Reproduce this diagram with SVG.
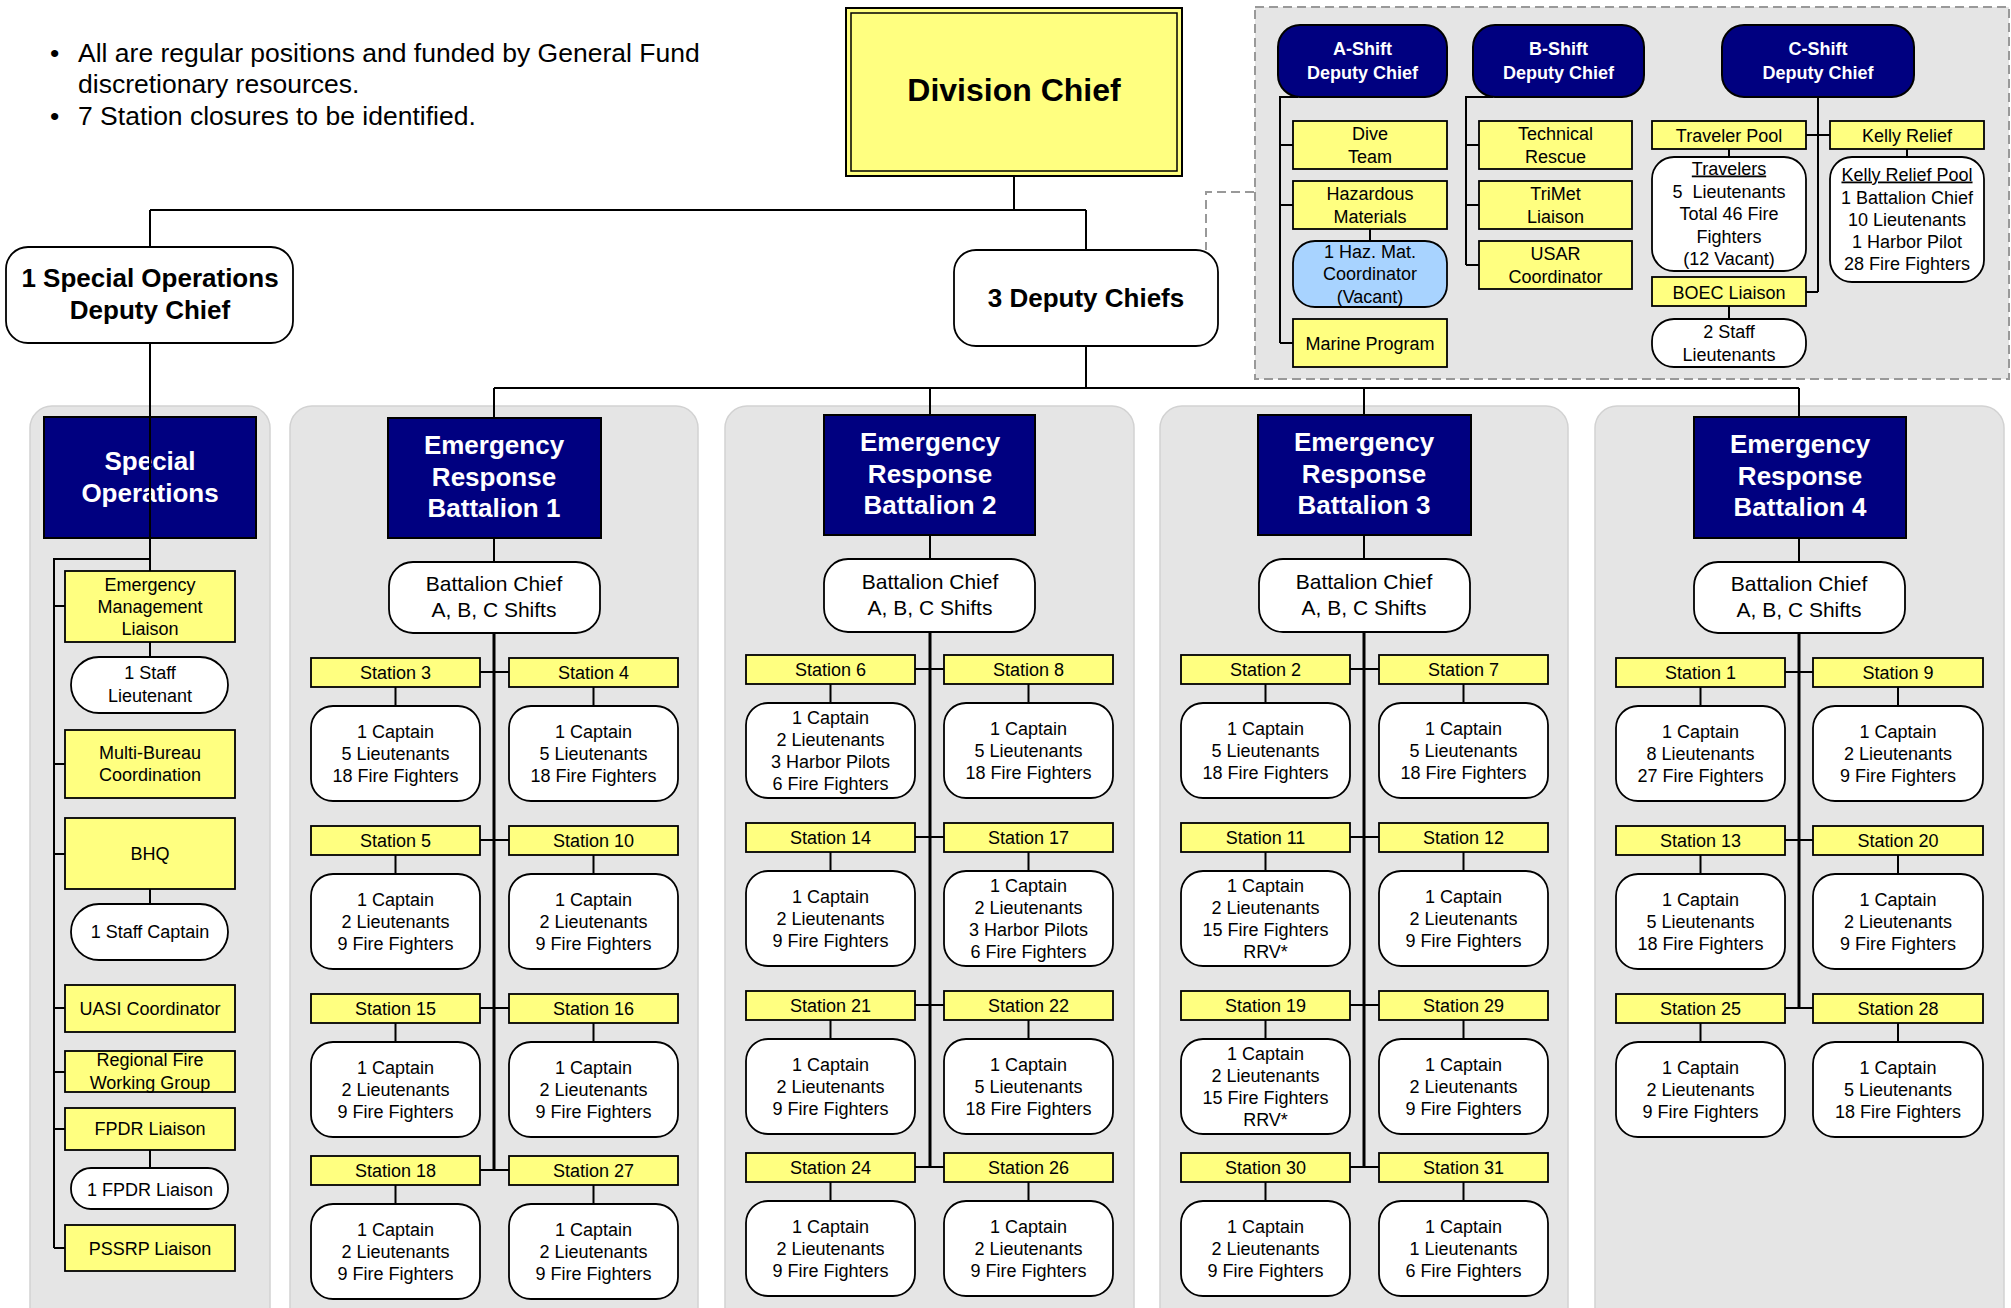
<svg xmlns="http://www.w3.org/2000/svg" width="2011" height="1308" viewBox="0 0 2011 1308">
<style>
.bg{fill:#fff}
.panel{fill:#e5e5e5;stroke:#d2d2d2;stroke-width:1.5}
.dash{fill:#e5e5e5;stroke:#999;stroke-width:2;stroke-dasharray:9,5}
.navy{fill:#000080;stroke:#000;stroke-width:2}
.yel{fill:#ffff80;stroke:#000;stroke-width:1.8}
.wb{fill:#fff;stroke:#000;stroke-width:1.8}
.blue{fill:#a8d3ff;stroke:#000;stroke-width:1.8}
.t{font-family:"Liberation Sans",Arial,sans-serif;font-size:18px;text-anchor:middle;fill:#000}
.bc{font-family:"Liberation Sans",Arial,sans-serif;font-size:21px;text-anchor:middle;fill:#000}
.tw{font-family:"Liberation Sans",Arial,sans-serif;font-weight:bold;text-anchor:middle;fill:#fff}
.tb{font-family:"Liberation Sans",Arial,sans-serif;font-weight:bold;text-anchor:middle;fill:#000}
.c{fill:none;stroke:#000;stroke-width:2}
.cm{fill:none;stroke:#000;stroke-width:3}
.cd{fill:none;stroke:#999;stroke-width:2;stroke-dasharray:9,5}
.u{text-decoration:underline}
</style>
<rect class="bg" x="0" y="0" width="2011" height="1308"/>

<g id="panels">
<rect class="dash" x="1255" y="7" width="754" height="372"/>
<rect class="panel" x="30" y="406" width="240" height="940" rx="22"/>
<rect class="panel" x="290" y="406" width="408" height="940" rx="22"/>
<rect class="panel" x="725" y="406" width="409" height="940" rx="22"/>
<rect class="panel" x="1160" y="406" width="408" height="940" rx="22"/>
<rect class="panel" x="1595" y="406" width="409" height="940" rx="22"/>
</g>

<g id="notes" font-family="'Liberation Sans',Arial,sans-serif" font-size="26.5" fill="#000">
<text x="50" y="62">•</text>
<text x="78" y="62">All are regular positions and funded by General Fund</text>
<text x="78" y="93">discretionary resources.</text>
<text x="50" y="125">•</text>
<text x="78" y="125">7 Station closures to be identified.</text>
</g>

<g id="connectors">
<path class="c" d="M1014,176 V210 M150,210 H1086 M150,210 V247 M1086,210 V250"/>
<path class="cd" d="M1254,192 H1206 V250"/>
<path class="c" d="M1086,346 V388 M494,388 H1799 M494,388 V418 M930,388 V415 M1364,388 V415 M1799,388 V417"/>
<path class="c" d="M1298,97 H1280 V343 M1280,145 H1293 M1280,205 H1293 M1280,343 H1293 M1370,229 V241"/>
<path class="c" d="M1493,97 H1466 V265 M1466,145 H1479 M1466,205 H1479 M1466,265 H1479"/>
<path class="c" d="M1818,97 V292 M1806,135 H1830 M1818,292 H1806 M1729,149 V157 M1729,306 V319 M1907,149 V157"/>
<path class="c" d="M150,642 V657 M150,889 V904 M150,1150 V1168"/>
<path class="c" d="M150,343 V571 M150,559 H54 V1248 M54,606 H65 M54,764 H65 M54,854 H65 M54,1008 H65 M54,1072 H65 M54,1129 H65 M54,1248 H65"/>
<path class="c" d="M494,538 V562 M930,535 V559 M1364,535 V559 M1799,538 V562"/>
<path class="cm" d="M494,633 V1170 M930,632 V1167 M1364,632 V1167 M1799,633 V1008"/>
<path class="c" d="M480,672 H509 M480,840 H509 M480,1008 H509 M480,1170 H509"/>
<path class="c" d="M915,669 H944 M915,837 H944 M915,1005 H944 M915,1167 H944"/>
<path class="c" d="M1350,669 H1379 M1350,837 H1379 M1350,1005 H1379 M1350,1167 H1379"/>
<path class="c" d="M1785,672 H1813 M1785,840 H1813 M1785,1008 H1813"/>
<path class="c" d="M395.5,687 V706 M395.5,855 V874 M395.5,1023 V1042 M395.5,1185 V1204 M593.5,687 V706 M593.5,855 V874 M593.5,1023 V1042 M593.5,1185 V1204"/>
<path class="c" d="M830.5,684 V703 M830.5,852 V871 M830.5,1020 V1039 M830.5,1182 V1201 M1028.5,684 V703 M1028.5,852 V871 M1028.5,1020 V1039 M1028.5,1182 V1201"/>
<path class="c" d="M1265.5,684 V703 M1265.5,852 V871 M1265.5,1020 V1039 M1265.5,1182 V1201 M1463.5,684 V703 M1463.5,852 V871 M1463.5,1020 V1039 M1463.5,1182 V1201"/>
<path class="c" d="M1700.5,687 V706 M1700.5,855 V874 M1700.5,1023 V1042 M1898,687 V706 M1898,855 V874 M1898,1023 V1042"/>
</g>

<g id="division-chief">
<rect x="846" y="8" width="336" height="168" fill="#ffff80" stroke="#000" stroke-width="2"/>
<rect x="851" y="13" width="326" height="158" fill="none" stroke="#000" stroke-width="1.5"/>
<text class="tb" x="1014" y="101" font-size="32">Division Chief</text>
</g>
<g id="so-deputy">
<rect class="wb" x="6" y="247" width="287" height="96" rx="22"/>
<text class="tb" x="150" y="287" font-size="26">1 Special Operations</text>
<text class="tb" x="150" y="319" font-size="26">Deputy Chief</text>
</g>
<g id="deputy-chiefs">
<rect class="wb" x="954" y="250" width="264" height="96" rx="22"/>
<text class="tb" x="1086" y="307" font-size="26">3 Deputy Chiefs</text>
</g>

<g id="a-shift"><rect class="navy" x="1278" y="25" width="169" height="72" rx="22"/><text class="tw" font-size="18" x="1362.5" y="54.5">A-Shift</text><text class="tw" font-size="18" x="1362.5" y="78.5">Deputy Chief</text></g>
<g id="b-shift"><rect class="navy" x="1473" y="25" width="171" height="72" rx="22"/><text class="tw" font-size="18" x="1558.5" y="54.5">B-Shift</text><text class="tw" font-size="18" x="1558.5" y="78.5">Deputy Chief</text></g>
<g id="c-shift"><rect class="navy" x="1722" y="25" width="192" height="72" rx="22"/><text class="tw" font-size="18" x="1818" y="54.5">C-Shift</text><text class="tw" font-size="18" x="1818" y="78.5">Deputy Chief</text></g>
<g id="dive-team"><rect class="yel" x="1293" y="121" width="154" height="48"/><text class="t" x="1370" y="139.5">Dive</text><text class="t" x="1370" y="162.5">Team</text></g>
<g id="hazmat"><rect class="yel" x="1293" y="181" width="154" height="48"/><text class="t" x="1370" y="199.5">Hazardous</text><text class="t" x="1370" y="222.5">Materials</text></g>
<g id="hazmat-coord"><rect class="blue" x="1293" y="241" width="154" height="66" rx="22"/><text class="t" x="1370" y="257.5">1 Haz. Mat.</text><text class="t" x="1370" y="279.5">Coordinator</text><text class="t" x="1370" y="302.5">(Vacant)</text></g>
<g id="marine"><rect class="yel" x="1293" y="319" width="154" height="48"/><text class="t" x="1370" y="349.5">Marine Program</text></g>
<g id="tech-rescue"><rect class="yel" x="1479" y="121" width="153" height="48"/><text class="t" x="1555.5" y="139.5">Technical</text><text class="t" x="1555.5" y="162.5">Rescue</text></g>
<g id="trimet"><rect class="yel" x="1479" y="181" width="153" height="48"/><text class="t" x="1555.5" y="199.5">TriMet</text><text class="t" x="1555.5" y="222.5">Liaison</text></g>
<g id="usar"><rect class="yel" x="1479" y="241" width="153" height="48"/><text class="t" x="1555.5" y="259.5">USAR</text><text class="t" x="1555.5" y="282.5">Coordinator</text></g>
<g id="traveler-pool"><rect class="yel" x="1652" y="121" width="154" height="28"/><text class="t" x="1729" y="141.5">Traveler Pool</text></g>
<g id="travelers"><rect class="wb" x="1652" y="157" width="154" height="114" rx="22"/><text class="t u" x="1729" y="174.5">Travelers</text><text class="t" x="1729" y="197.5" xml:space="preserve">5  Lieutenants</text><text class="t" x="1729" y="219.5">Total 46 Fire</text><text class="t" x="1729" y="242.5">Fighters</text><text class="t" x="1729" y="264.5">(12 Vacant)</text></g>
<g id="boec"><rect class="yel" x="1652" y="277" width="154" height="29"/><text class="t" x="1729" y="298.5">BOEC Liaison</text></g>
<g id="staff-lts"><rect class="wb" x="1652" y="319" width="154" height="48" rx="22"/><text class="t" x="1729" y="337.5">2 Staff</text><text class="t" x="1729" y="360.5">Lieutenants</text></g>
<g id="kelly-relief"><rect class="yel" x="1830" y="121" width="154" height="28"/><text class="t" x="1907" y="141.5">Kelly Relief</text></g>
<g id="kelly-pool"><rect class="wb" x="1830" y="157" width="154" height="125" rx="22"/><text class="t u" x="1907" y="180.5">Kelly Relief Pool</text><text class="t" x="1907" y="203.5">1 Battalion Chief</text><text class="t" x="1907" y="225.5">10 Lieutenants</text><text class="t" x="1907" y="247.5">1 Harbor Pilot</text><text class="t" x="1907" y="269.5">28 Fire Fighters</text></g>

<g id="special-ops"><rect class="navy" x="44" y="417" width="212" height="121"/><text class="tw" font-size="26" x="150" y="470">Special</text><text class="tw" font-size="26" x="150" y="502">Operations</text></g>
<g id="eml"><rect class="yel" x="65" y="571" width="170" height="71"/><text class="t" x="150" y="590.5">Emergency</text><text class="t" x="150" y="612.5">Management</text><text class="t" x="150" y="634.5">Liaison</text></g>
<g id="staff-lt"><rect class="wb" x="71" y="657" width="157" height="56" rx="28"/><text class="t" x="150" y="678.5">1 Staff</text><text class="t" x="150" y="701.5">Lieutenant</text></g>
<g id="multi-bureau"><rect class="yel" x="65" y="730" width="170" height="68"/><text class="t" x="150" y="758.5">Multi-Bureau</text><text class="t" x="150" y="780.5">Coordination</text></g>
<g id="bhq"><rect class="yel" x="65" y="818" width="170" height="71"/><text class="t" x="150" y="859.5">BHQ</text></g>
<g id="staff-capt"><rect class="wb" x="71" y="904" width="157" height="56" rx="28"/><text class="t" x="150" y="937.5">1 Staff Captain</text></g>
<g id="uasi"><rect class="yel" x="65" y="985" width="170" height="47"/><text class="t" x="150" y="1014.5">UASI Coordinator</text></g>
<g id="regional"><rect class="yel" x="65" y="1051" width="170" height="41"/><text class="t" x="150" y="1065.5">Regional Fire</text><text class="t" x="150" y="1088.5">Working Group</text></g>
<g id="fpdr"><rect class="yel" x="65" y="1108" width="170" height="42"/><text class="t" x="150" y="1134.5">FPDR Liaison</text></g>
<g id="fpdr-person"><rect class="wb" x="71" y="1168" width="157" height="41" rx="20"/><text class="t" x="150" y="1195.5">1 FPDR Liaison</text></g>
<g id="pssrp"><rect class="yel" x="65" y="1225" width="170" height="46"/><text class="t" x="150" y="1254.5">PSSRP Liaison</text></g>

<!-- Battalion 1 -->
<g id="erb1"><rect class="navy" x="388" y="418" width="213" height="120"/><text class="tw" font-size="26" x="494" y="454">Emergency</text><text class="tw" font-size="26" x="494" y="486">Response</text><text class="tw" font-size="26" x="494" y="517">Battalion 1</text></g>
<g id="bc1"><rect class="wb" x="389" y="562" width="211" height="71" rx="24"/><text class="bc" x="494" y="591">Battalion Chief</text><text class="bc" x="494" y="617">A, B, C Shifts</text></g>
<g id="st3"><rect class="yel" x="311" y="658" width="169" height="29"/><text class="t" x="395.5" y="679">Station 3</text><rect class="wb" x="311" y="706" width="169" height="95" rx="22"/><text class="t" x="395.5" y="738">1 Captain</text><text class="t" x="395.5" y="760">5 Lieutenants</text><text class="t" x="395.5" y="782">18 Fire Fighters</text></g>
<g id="st4"><rect class="yel" x="509" y="658" width="169" height="29"/><text class="t" x="593.5" y="679">Station 4</text><rect class="wb" x="509" y="706" width="169" height="95" rx="22"/><text class="t" x="593.5" y="738">1 Captain</text><text class="t" x="593.5" y="760">5 Lieutenants</text><text class="t" x="593.5" y="782">18 Fire Fighters</text></g>
<g id="st5"><rect class="yel" x="311" y="826" width="169" height="29"/><text class="t" x="395.5" y="847">Station 5</text><rect class="wb" x="311" y="874" width="169" height="95" rx="22"/><text class="t" x="395.5" y="906">1 Captain</text><text class="t" x="395.5" y="928">2 Lieutenants</text><text class="t" x="395.5" y="950">9 Fire Fighters</text></g>
<g id="st10"><rect class="yel" x="509" y="826" width="169" height="29"/><text class="t" x="593.5" y="847">Station 10</text><rect class="wb" x="509" y="874" width="169" height="95" rx="22"/><text class="t" x="593.5" y="906">1 Captain</text><text class="t" x="593.5" y="928">2 Lieutenants</text><text class="t" x="593.5" y="950">9 Fire Fighters</text></g>
<g id="st15"><rect class="yel" x="311" y="994" width="169" height="29"/><text class="t" x="395.5" y="1015">Station 15</text><rect class="wb" x="311" y="1042" width="169" height="95" rx="22"/><text class="t" x="395.5" y="1074">1 Captain</text><text class="t" x="395.5" y="1096">2 Lieutenants</text><text class="t" x="395.5" y="1118">9 Fire Fighters</text></g>
<g id="st16"><rect class="yel" x="509" y="994" width="169" height="29"/><text class="t" x="593.5" y="1015">Station 16</text><rect class="wb" x="509" y="1042" width="169" height="95" rx="22"/><text class="t" x="593.5" y="1074">1 Captain</text><text class="t" x="593.5" y="1096">2 Lieutenants</text><text class="t" x="593.5" y="1118">9 Fire Fighters</text></g>
<g id="st18"><rect class="yel" x="311" y="1156" width="169" height="29"/><text class="t" x="395.5" y="1177">Station 18</text><rect class="wb" x="311" y="1204" width="169" height="95" rx="22"/><text class="t" x="395.5" y="1236">1 Captain</text><text class="t" x="395.5" y="1258">2 Lieutenants</text><text class="t" x="395.5" y="1280">9 Fire Fighters</text></g>
<g id="st27"><rect class="yel" x="509" y="1156" width="169" height="29"/><text class="t" x="593.5" y="1177">Station 27</text><rect class="wb" x="509" y="1204" width="169" height="95" rx="22"/><text class="t" x="593.5" y="1236">1 Captain</text><text class="t" x="593.5" y="1258">2 Lieutenants</text><text class="t" x="593.5" y="1280">9 Fire Fighters</text></g>

<!-- Battalion 2 -->
<g id="erb2"><rect class="navy" x="824" y="415" width="211" height="120"/><text class="tw" font-size="26" x="930" y="451">Emergency</text><text class="tw" font-size="26" x="930" y="483">Response</text><text class="tw" font-size="26" x="930" y="514">Battalion 2</text></g>
<g id="bc2"><rect class="wb" x="824" y="559" width="211" height="73" rx="24"/><text class="bc" x="930" y="588.5">Battalion Chief</text><text class="bc" x="930" y="614.5">A, B, C Shifts</text></g>
<g id="st6"><rect class="yel" x="746" y="655" width="169" height="29"/><text class="t" x="830.5" y="676">Station 6</text><rect class="wb" x="746" y="703" width="169" height="95" rx="22"/><text class="t" x="830.5" y="724">1 Captain</text><text class="t" x="830.5" y="746">2 Lieutenants</text><text class="t" x="830.5" y="768">3 Harbor Pilots</text><text class="t" x="830.5" y="790">6 Fire Fighters</text></g>
<g id="st8"><rect class="yel" x="944" y="655" width="169" height="29"/><text class="t" x="1028.5" y="676">Station 8</text><rect class="wb" x="944" y="703" width="169" height="95" rx="22"/><text class="t" x="1028.5" y="735">1 Captain</text><text class="t" x="1028.5" y="757">5 Lieutenants</text><text class="t" x="1028.5" y="779">18 Fire Fighters</text></g>
<g id="st14"><rect class="yel" x="746" y="823" width="169" height="29"/><text class="t" x="830.5" y="844">Station 14</text><rect class="wb" x="746" y="871" width="169" height="95" rx="22"/><text class="t" x="830.5" y="903">1 Captain</text><text class="t" x="830.5" y="925">2 Lieutenants</text><text class="t" x="830.5" y="947">9 Fire Fighters</text></g>
<g id="st17"><rect class="yel" x="944" y="823" width="169" height="29"/><text class="t" x="1028.5" y="844">Station 17</text><rect class="wb" x="944" y="871" width="169" height="95" rx="22"/><text class="t" x="1028.5" y="892">1 Captain</text><text class="t" x="1028.5" y="914">2 Lieutenants</text><text class="t" x="1028.5" y="936">3 Harbor Pilots</text><text class="t" x="1028.5" y="958">6 Fire Fighters</text></g>
<g id="st21"><rect class="yel" x="746" y="991" width="169" height="29"/><text class="t" x="830.5" y="1012">Station 21</text><rect class="wb" x="746" y="1039" width="169" height="95" rx="22"/><text class="t" x="830.5" y="1071">1 Captain</text><text class="t" x="830.5" y="1093">2 Lieutenants</text><text class="t" x="830.5" y="1115">9 Fire Fighters</text></g>
<g id="st22"><rect class="yel" x="944" y="991" width="169" height="29"/><text class="t" x="1028.5" y="1012">Station 22</text><rect class="wb" x="944" y="1039" width="169" height="95" rx="22"/><text class="t" x="1028.5" y="1071">1 Captain</text><text class="t" x="1028.5" y="1093">5 Lieutenants</text><text class="t" x="1028.5" y="1115">18 Fire Fighters</text></g>
<g id="st24"><rect class="yel" x="746" y="1153" width="169" height="29"/><text class="t" x="830.5" y="1174">Station 24</text><rect class="wb" x="746" y="1201" width="169" height="95" rx="22"/><text class="t" x="830.5" y="1233">1 Captain</text><text class="t" x="830.5" y="1255">2 Lieutenants</text><text class="t" x="830.5" y="1277">9 Fire Fighters</text></g>
<g id="st26"><rect class="yel" x="944" y="1153" width="169" height="29"/><text class="t" x="1028.5" y="1174">Station 26</text><rect class="wb" x="944" y="1201" width="169" height="95" rx="22"/><text class="t" x="1028.5" y="1233">1 Captain</text><text class="t" x="1028.5" y="1255">2 Lieutenants</text><text class="t" x="1028.5" y="1277">9 Fire Fighters</text></g>

<!-- Battalion 3 -->
<g id="erb3"><rect class="navy" x="1258" y="415" width="213" height="120"/><text class="tw" font-size="26" x="1364" y="451">Emergency</text><text class="tw" font-size="26" x="1364" y="483">Response</text><text class="tw" font-size="26" x="1364" y="514">Battalion 3</text></g>
<g id="bc3"><rect class="wb" x="1259" y="559" width="211" height="73" rx="24"/><text class="bc" x="1364" y="588.5">Battalion Chief</text><text class="bc" x="1364" y="614.5">A, B, C Shifts</text></g>
<g id="st2"><rect class="yel" x="1181" y="655" width="169" height="29"/><text class="t" x="1265.5" y="676">Station 2</text><rect class="wb" x="1181" y="703" width="169" height="95" rx="22"/><text class="t" x="1265.5" y="735">1 Captain</text><text class="t" x="1265.5" y="757">5 Lieutenants</text><text class="t" x="1265.5" y="779">18 Fire Fighters</text></g>
<g id="st7"><rect class="yel" x="1379" y="655" width="169" height="29"/><text class="t" x="1463.5" y="676">Station 7</text><rect class="wb" x="1379" y="703" width="169" height="95" rx="22"/><text class="t" x="1463.5" y="735">1 Captain</text><text class="t" x="1463.5" y="757">5 Lieutenants</text><text class="t" x="1463.5" y="779">18 Fire Fighters</text></g>
<g id="st11"><rect class="yel" x="1181" y="823" width="169" height="29"/><text class="t" x="1265.5" y="844">Station 11</text><rect class="wb" x="1181" y="871" width="169" height="95" rx="22"/><text class="t" x="1265.5" y="892">1 Captain</text><text class="t" x="1265.5" y="914">2 Lieutenants</text><text class="t" x="1265.5" y="936">15 Fire Fighters</text><text class="t" x="1265.5" y="958">RRV*</text></g>
<g id="st12"><rect class="yel" x="1379" y="823" width="169" height="29"/><text class="t" x="1463.5" y="844">Station 12</text><rect class="wb" x="1379" y="871" width="169" height="95" rx="22"/><text class="t" x="1463.5" y="903">1 Captain</text><text class="t" x="1463.5" y="925">2 Lieutenants</text><text class="t" x="1463.5" y="947">9 Fire Fighters</text></g>
<g id="st19"><rect class="yel" x="1181" y="991" width="169" height="29"/><text class="t" x="1265.5" y="1012">Station 19</text><rect class="wb" x="1181" y="1039" width="169" height="95" rx="22"/><text class="t" x="1265.5" y="1060">1 Captain</text><text class="t" x="1265.5" y="1082">2 Lieutenants</text><text class="t" x="1265.5" y="1104">15 Fire Fighters</text><text class="t" x="1265.5" y="1126">RRV*</text></g>
<g id="st29"><rect class="yel" x="1379" y="991" width="169" height="29"/><text class="t" x="1463.5" y="1012">Station 29</text><rect class="wb" x="1379" y="1039" width="169" height="95" rx="22"/><text class="t" x="1463.5" y="1071">1 Captain</text><text class="t" x="1463.5" y="1093">2 Lieutenants</text><text class="t" x="1463.5" y="1115">9 Fire Fighters</text></g>
<g id="st30"><rect class="yel" x="1181" y="1153" width="169" height="29"/><text class="t" x="1265.5" y="1174">Station 30</text><rect class="wb" x="1181" y="1201" width="169" height="95" rx="22"/><text class="t" x="1265.5" y="1233">1 Captain</text><text class="t" x="1265.5" y="1255">2 Lieutenants</text><text class="t" x="1265.5" y="1277">9 Fire Fighters</text></g>
<g id="st31"><rect class="yel" x="1379" y="1153" width="169" height="29"/><text class="t" x="1463.5" y="1174">Station 31</text><rect class="wb" x="1379" y="1201" width="169" height="95" rx="22"/><text class="t" x="1463.5" y="1233">1 Captain</text><text class="t" x="1463.5" y="1255">1 Lieutenants</text><text class="t" x="1463.5" y="1277">6 Fire Fighters</text></g>

<!-- Battalion 4 -->
<g id="erb4"><rect class="navy" x="1694" y="417" width="212" height="121"/><text class="tw" font-size="26" x="1800" y="453">Emergency</text><text class="tw" font-size="26" x="1800" y="485">Response</text><text class="tw" font-size="26" x="1800" y="516">Battalion 4</text></g>
<g id="bc4"><rect class="wb" x="1694" y="562" width="211" height="71" rx="24"/><text class="bc" x="1799" y="591">Battalion Chief</text><text class="bc" x="1799" y="617">A, B, C Shifts</text></g>
<g id="st1"><rect class="yel" x="1616" y="658" width="169" height="29"/><text class="t" x="1700.5" y="679">Station 1</text><rect class="wb" x="1616" y="706" width="169" height="95" rx="22"/><text class="t" x="1700.5" y="738">1 Captain</text><text class="t" x="1700.5" y="760">8 Lieutenants</text><text class="t" x="1700.5" y="782">27 Fire Fighters</text></g>
<g id="st9"><rect class="yel" x="1813" y="658" width="170" height="29"/><text class="t" x="1898" y="679">Station 9</text><rect class="wb" x="1813" y="706" width="170" height="95" rx="22"/><text class="t" x="1898" y="738">1 Captain</text><text class="t" x="1898" y="760">2 Lieutenants</text><text class="t" x="1898" y="782">9 Fire Fighters</text></g>
<g id="st13"><rect class="yel" x="1616" y="826" width="169" height="29"/><text class="t" x="1700.5" y="847">Station 13</text><rect class="wb" x="1616" y="874" width="169" height="95" rx="22"/><text class="t" x="1700.5" y="906">1 Captain</text><text class="t" x="1700.5" y="928">5 Lieutenants</text><text class="t" x="1700.5" y="950">18 Fire Fighters</text></g>
<g id="st20"><rect class="yel" x="1813" y="826" width="170" height="29"/><text class="t" x="1898" y="847">Station 20</text><rect class="wb" x="1813" y="874" width="170" height="95" rx="22"/><text class="t" x="1898" y="906">1 Captain</text><text class="t" x="1898" y="928">2 Lieutenants</text><text class="t" x="1898" y="950">9 Fire Fighters</text></g>
<g id="st25"><rect class="yel" x="1616" y="994" width="169" height="29"/><text class="t" x="1700.5" y="1015">Station 25</text><rect class="wb" x="1616" y="1042" width="169" height="95" rx="22"/><text class="t" x="1700.5" y="1074">1 Captain</text><text class="t" x="1700.5" y="1096">2 Lieutenants</text><text class="t" x="1700.5" y="1118">9 Fire Fighters</text></g>
<g id="st28"><rect class="yel" x="1813" y="994" width="170" height="29"/><text class="t" x="1898" y="1015">Station 28</text><rect class="wb" x="1813" y="1042" width="170" height="95" rx="22"/><text class="t" x="1898" y="1074">1 Captain</text><text class="t" x="1898" y="1096">5 Lieutenants</text><text class="t" x="1898" y="1118">18 Fire Fighters</text></g>

<g id="so-line-over">
<path class="c" d="M150,417 V538"/>
</g>
</svg>
